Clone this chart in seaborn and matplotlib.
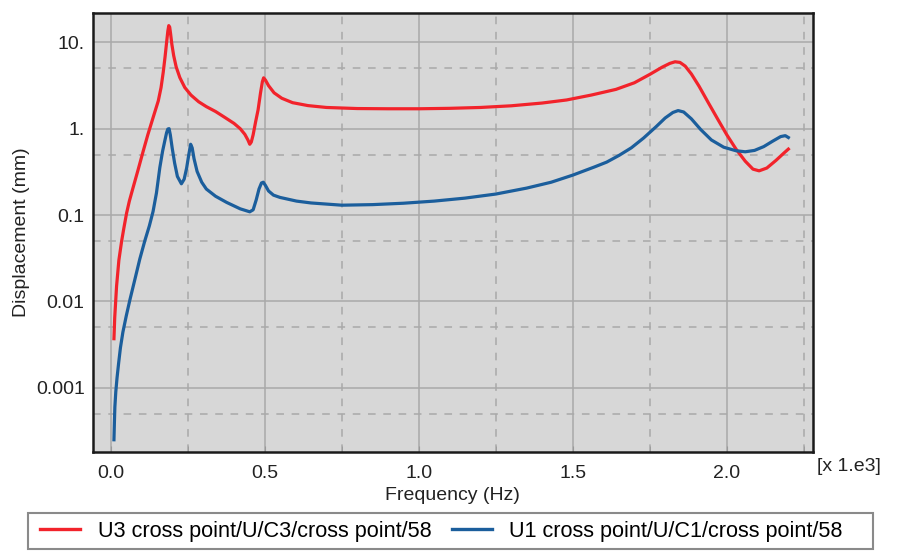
import numpy as np
import pandas as pd
import seaborn as sns
import matplotlib.pyplot as plt
from matplotlib.lines import Line2D
from matplotlib.patches import Rectangle

# Frequency in kHz (axis shows "x 1.e3"), displacement in mm
freq_u3 = [0.010, 0.0125, 0.0185, 0.026, 0.035, 0.042, 0.051, 0.060, 0.072, 0.088,
           0.105, 0.120, 0.137, 0.154, 0.163, 0.170, 0.176, 0.181, 0.185, 0.188,
           0.191, 0.194, 0.198, 0.204, 0.212, 0.224, 0.240, 0.260, 0.285, 0.310,
           0.340, 0.370, 0.400, 0.420, 0.435, 0.445, 0.451, 0.456, 0.462, 0.470,
           0.478, 0.486, 0.492, 0.496, 0.502, 0.512, 0.530, 0.555, 0.590, 0.640,
           0.700, 0.800, 0.900, 1.000, 1.100, 1.200, 1.300, 1.400, 1.480, 1.560,
           1.640, 1.700, 1.750, 1.790, 1.815, 1.832, 1.848, 1.865, 1.885, 1.910,
           1.940, 1.970, 2.000, 2.030, 2.060, 2.085, 2.105, 2.130, 2.160, 2.185,
           2.200]
disp_u3 = [0.0037, 0.0065, 0.015, 0.030, 0.050, 0.070, 0.105, 0.145, 0.207, 0.330,
           0.550, 0.850, 1.340, 2.100, 3.000, 4.500, 6.800, 10.00, 13.50, 15.60,
           15.00, 12.50, 9.500, 7.000, 5.200, 3.900, 3.000, 2.450, 2.050, 1.800,
           1.580, 1.350, 1.150, 1.000, 0.860, 0.740, 0.660, 0.700, 0.850, 1.200,
           1.650, 2.600, 3.500, 3.880, 3.650, 3.150, 2.600, 2.250, 2.000, 1.850,
           1.760, 1.710, 1.700, 1.700, 1.720, 1.760, 1.840, 1.980, 2.150, 2.450,
           2.850, 3.400, 4.250, 5.150, 5.700, 5.950, 5.850, 5.300, 4.300, 3.100,
           2.000, 1.300, 0.850, 0.580, 0.420, 0.340, 0.325, 0.350, 0.430, 0.520,
           0.580]

freq_u1 = [0.010, 0.0115, 0.013, 0.016, 0.020, 0.025, 0.031, 0.039, 0.050, 0.062,
           0.078, 0.094, 0.110, 0.125, 0.137, 0.148, 0.159, 0.168, 0.175, 0.181,
           0.185, 0.189, 0.193, 0.199, 0.207, 0.216, 0.229, 0.238, 0.246, 0.253,
           0.259, 0.264, 0.270, 0.280, 0.295, 0.310, 0.340, 0.376, 0.420, 0.451,
           0.462, 0.472, 0.481, 0.489, 0.495, 0.502, 0.512, 0.528, 0.549, 0.603,
           0.650, 0.750, 0.850, 0.950, 1.050, 1.150, 1.250, 1.350, 1.430, 1.500,
           1.570, 1.610, 1.650, 1.690, 1.730, 1.770, 1.800, 1.825, 1.842, 1.860,
           1.885, 1.915, 1.950, 1.990, 2.030, 2.060, 2.090, 2.120, 2.150, 2.175,
           2.190, 2.200]
disp_u1 = [0.00025, 0.0004, 0.0006, 0.0009, 0.0013, 0.0019, 0.0029, 0.0044, 0.0068, 0.0105,
           0.018, 0.031, 0.050, 0.075, 0.110, 0.180, 0.355, 0.550, 0.720, 0.900,
           0.990, 1.000, 0.850, 0.600, 0.400, 0.280, 0.230, 0.260, 0.350, 0.500,
           0.660, 0.600, 0.450, 0.320, 0.240, 0.200, 0.165, 0.140, 0.118, 0.109,
           0.115, 0.150, 0.200, 0.235, 0.240, 0.220, 0.190, 0.170, 0.160, 0.145,
           0.138, 0.130, 0.132, 0.137, 0.145, 0.157, 0.175, 0.205, 0.240, 0.290,
           0.360, 0.410, 0.490, 0.600, 0.780, 1.050, 1.330, 1.540, 1.620, 1.560,
           1.300, 0.980, 0.740, 0.610, 0.555, 0.540, 0.560, 0.620, 0.720, 0.810,
           0.830, 0.790]

label_u3 = "U3 cross point/U/C3/cross point/58"
label_u1 = "U1 cross point/U/C1/cross point/58"
series_colors = {label_u3: "#f2232b", label_u1: "#1b5e9c"}

y_ticks = [0.001, 0.01, 0.1, 1, 10]
y_ticklabels = ["0.001", "0.01", "0.1", "1.", "10."]
y_minor = [5e-4, 5e-3, 5e-2, 0.5, 5]
x_ticks = [0.0, 0.5, 1.0, 1.5, 2.0]
x_ticklabels = ["0.0", "0.5", "1.0", "1.5", "2.0"]
x_minor = [0.25, 0.75, 1.25, 1.75, 2.25]

df = pd.concat([
    pd.DataFrame({"freq": freq_u3, "disp": disp_u3, "series": label_u3}),
    pd.DataFrame({"freq": freq_u1, "disp": disp_u1, "series": label_u1}),
])

plt.rcParams['font.family'] = ['Liberation Sans', 'DejaVu Sans']

fig = plt.figure(figsize=(9.03, 5.52), dpi=100)
ax = fig.add_axes([0.103, 0.181, 0.797, 0.795])
ax.set_facecolor('#d7d7d7')

sns.lineplot(data=df, x='freq', y='disp', hue='series', palette=series_colors,
             linewidth=2.3, sort=False, legend=False, ax=ax)

ax.set_yscale('log')
ax.set_xlim(-0.058, 2.279)
ax.set_ylim(1.8e-4, 21.7)

ax.set_yticks(y_ticks)
ax.set_yticklabels(y_ticklabels)
ax.set_yticks(y_minor, minor=True)
ax.set_xticks(x_ticks)
ax.set_xticklabels(x_ticklabels)
ax.set_xticks(x_minor, minor=True)
ax.yaxis.set_minor_formatter(plt.NullFormatter())
ax.xaxis.set_minor_formatter(plt.NullFormatter())

ax.grid(which='major', color='#a9a9a9', linewidth=1.1, linestyle='-')
ax.grid(which='minor', color='#a9a9a9', linewidth=1.1, linestyle=(0, (5, 5)))
ax.set_axisbelow(True)

ax.tick_params(axis='both', which='both', labelsize=14, colors='#222222')
ax.tick_params(axis='y', which='both', length=0, pad=6)
ax.tick_params(axis='x', which='both', direction='in', length=4, color='#999999', pad=9)

for sp in ax.spines.values():
    sp.set_linewidth(1.8)
    sp.set_color('#1a1a1a')

ax.set_xlabel('Frequency (Hz)', fontsize=14, color='#222222', labelpad=4)
ax.set_ylabel('Displacement (mm)', fontsize=14, color='#222222', labelpad=4)
fig.text(0.905, 0.154, '[x 1.e3]', fontsize=14, color='#222222', ha='left', va='center')

# legend box spans nearly the full figure width in the reference
fig.patches.append(Rectangle((28 / 903, 3 / 552), 845 / 903, 36 / 552,
                             transform=fig.transFigure, facecolor='white',
                             edgecolor='#8a8a8a', linewidth=1.5, zorder=0))
handles = [Line2D([], [], color=series_colors[label_u3], linewidth=2.4),
           Line2D([], [], color=series_colors[label_u1], linewidth=2.4)]
fig.legend(handles, [label_u3, label_u1], loc='center left', ncol=2,
           bbox_to_anchor=(40 / 903, 0.038), fontsize=15.6, frameon=False,
           handlelength=1.85, handletextpad=0.82, columnspacing=0.92,
           borderpad=0, borderaxespad=0)

fig.savefig('out.png', dpi=100, facecolor='white')
